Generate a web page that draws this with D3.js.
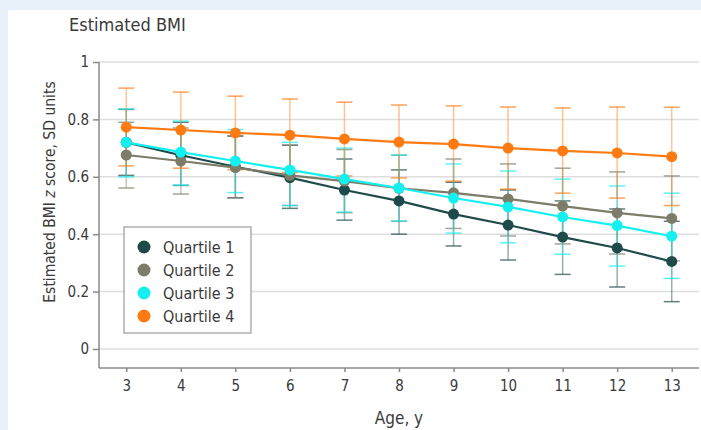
<!DOCTYPE html>
<html>
<head>
<meta charset="utf-8">
<script src="https://cdn.jsdelivr.net/npm/d3@7"></script>
<style>
  body { margin: 0; background: #e9f1fa; }
  text { font-family: "DejaVu Sans Condensed", "DejaVu Sans", sans-serif; fill: #3a3a3a; }
</style>
</head>
<body>
<div id="chart"></div>
<script>
// ages on the x axis
var ages = [3, 4, 5, 6, 7, 8, 9, 10, 11, 12, 13];
var seriesNames = ["Quartile 1", "Quartile 2", "Quartile 3", "Quartile 4"];

// estimated BMI z score per quartile, with lower / upper CI
var q1 = [0.720, 0.675, 0.635, 0.597, 0.554, 0.516, 0.470, 0.432, 0.390, 0.352, 0.305];
var q1Lo = [0.605, 0.570, 0.527, 0.490, 0.449, 0.400, 0.359, 0.310, 0.260, 0.216, 0.165];
var q1Hi = [0.835, 0.790, 0.742, 0.710, 0.662, 0.624, 0.581, 0.554, 0.516, 0.488, 0.445];

var q2 = [0.676, 0.655, 0.632, 0.605, 0.585, 0.560, 0.544, 0.523, 0.498, 0.474, 0.455];
var q2Lo = [0.561, 0.540, 0.527, 0.500, 0.475, 0.445, 0.420, 0.394, 0.366, 0.331, 0.307];
var q2Hi = [0.790, 0.770, 0.742, 0.710, 0.695, 0.675, 0.662, 0.645, 0.630, 0.617, 0.603];

var q3 = [0.720, 0.686, 0.655, 0.624, 0.592, 0.561, 0.526, 0.495, 0.460, 0.430, 0.393];
var q3Lo = [0.600, 0.571, 0.545, 0.500, 0.477, 0.446, 0.404, 0.370, 0.330, 0.289, 0.246];
var q3Hi = [0.836, 0.794, 0.765, 0.720, 0.700, 0.676, 0.645, 0.620, 0.592, 0.568, 0.543];

var q4 = [0.773, 0.763, 0.753, 0.745, 0.732, 0.721, 0.714, 0.700, 0.690, 0.683, 0.670];
var q4Lo = [0.638, 0.630, 0.625, 0.615, 0.603, 0.596, 0.585, 0.557, 0.543, 0.526, 0.500];
var q4Hi = [0.909, 0.895, 0.881, 0.871, 0.860, 0.850, 0.847, 0.843, 0.840, 0.843, 0.842];

var yTicks = [0, 0.2, 0.4, 0.6, 0.8, 1];

var colors = ["#1f4a4a", "#7c7c68", "#14f0f0", "#ff7b12"];

var svgWidth = 701;
var svgHeight = 430;

var margin = { top: 62, right: 2, bottom: 62, left: 99 };
var chartWidth = svgWidth - margin.left - margin.right;
var chartHeight = svgHeight - margin.top - margin.bottom;

var svg = d3.select("#chart")
  .append("svg")
  .attr("width", svgWidth)
  .attr("height", svgHeight);

// white panel over the blue page
svg.append("rect")
  .attr("x", 8)
  .attr("y", 10)
  .attr("width", svgWidth - 8)
  .attr("height", svgHeight - 10)
  .attr("fill", "#fff");

var chartGroup = svg.append("g")
  .attr("transform", `translate(${margin.left}, ${margin.top})`);

var xScale = d3.scaleLinear()
  .domain([2.5, 13.5])
  .range([0, chartWidth]);

var yScale = d3.scaleLinear()
  .domain([-0.0662, 1])
  .range([chartHeight, 0]);

// gridlines
chartGroup.selectAll(".grid")
  .data(yTicks)
  .enter()
  .append("line")
  .attr("x1", 0)
  .attr("x2", chartWidth)
  .attr("y1", d => yScale(d))
  .attr("y2", d => yScale(d))
  .attr("stroke", "#dedede")
  .attr("stroke-width", 1.5);

// axes
var yAxis = d3.axisLeft(yScale)
  .tickValues(yTicks)
  .tickSize(6)
  .tickPadding(4)
  .tickFormat(d => d === 0 || d === 1 ? d3.format("d")(d) : d3.format(".1f")(d));

var xAxis = d3.axisBottom(xScale)
  .tickValues(ages)
  .tickSize(4)
  .tickPadding(8)
  .tickFormat(d3.format("d"));

var yG = chartGroup.append("g").call(yAxis);
var xG = chartGroup.append("g")
  .attr("transform", `translate(0, ${chartHeight})`)
  .call(xAxis);

[yG, xG].forEach(function(g) {
  g.select(".domain").attr("stroke", "#8a8a8a").attr("stroke-width", 1.5);
  g.selectAll(".tick line").attr("stroke", "#8a8a8a").attr("stroke-width", 1.5);
  g.selectAll(".tick text")
    .attr("font-size", 15)
    .attr("fill", "#3a3a3a")
    .style("font-family", "'DejaVu Sans Condensed', sans-serif");
});
yG.select(".domain").attr("d", `M0,0V${chartHeight}`);
xG.select(".domain").attr("d", `M0,0H${chartWidth}`);

// build series table
var series = [
  { name: seriesNames[0], v: q1, lo: q1Lo, hi: q1Hi, color: colors[0] },
  { name: seriesNames[1], v: q2, lo: q2Lo, hi: q2Hi, color: colors[1] },
  { name: seriesNames[2], v: q3, lo: q3Lo, hi: q3Hi, color: colors[2] },
  { name: seriesNames[3], v: q4, lo: q4Lo, hi: q4Hi, color: colors[3] }
];
series.forEach(function(s) {
  s.points = ages.map((a, i) => ({ age: a, v: s.v[i], lo: s.lo[i], hi: s.hi[i] }));
});

var capHalf = 8;

// error bars first
series.forEach(function(s) {
  var eb = chartGroup.append("g")
    .attr("stroke", s.color)
    .attr("stroke-opacity", 0.45)
    .attr("stroke-width", 1.5);
  eb.selectAll(".stem")
    .data(s.points)
    .enter()
    .append("line")
    .attr("x1", d => xScale(d.age))
    .attr("x2", d => xScale(d.age))
    .attr("y1", d => yScale(d.lo))
    .attr("y2", d => yScale(d.hi));
  eb.selectAll(".capHi")
    .data(s.points)
    .enter()
    .append("line")
    .attr("x1", d => xScale(d.age) - capHalf)
    .attr("x2", d => xScale(d.age) + capHalf)
    .attr("y1", d => yScale(d.hi))
    .attr("y2", d => yScale(d.hi))
    .attr("stroke-opacity", 0.7);
  eb.selectAll(".capLo")
    .data(s.points)
    .enter()
    .append("line")
    .attr("x1", d => xScale(d.age) - capHalf)
    .attr("x2", d => xScale(d.age) + capHalf)
    .attr("y1", d => yScale(d.lo))
    .attr("y2", d => yScale(d.lo))
    .attr("stroke-opacity", 0.7);
});

// lines and points
var line = d3.line()
  .x(d => xScale(d.age))
  .y(d => yScale(d.v));

series.forEach(function(s) {
  chartGroup.append("path")
    .datum(s.points)
    .attr("d", line)
    .attr("fill", "none")
    .attr("stroke", s.color)
    .attr("stroke-width", 2.2);
  chartGroup.selectAll(null)
    .data(s.points)
    .enter()
    .append("circle")
    .attr("cx", d => xScale(d.age))
    .attr("cy", d => yScale(d.v))
    .attr("r", 5.5)
    .attr("fill", s.color);
});

// legend
var legend = svg.append("g").attr("transform", "translate(124, 227)");
legend.append("rect")
  .attr("width", 127)
  .attr("height", 106)
  .attr("fill", "#fff")
  .attr("stroke", "#9a9a9a")
  .attr("stroke-width", 1.2);
series.forEach(function(s, i) {
  legend.append("circle")
    .attr("cx", 20)
    .attr("cy", 20 + i * 23)
    .attr("r", 6.5)
    .attr("fill", s.color);
  legend.append("text")
    .attr("x", 39)
    .attr("y", 20 + i * 23)
    .attr("dy", "0.35em")
    .attr("font-size", 16)
    .text(s.name);
});

// title
svg.append("text")
  .attr("x", 69)
  .attr("y", 31)
  .attr("font-size", 18)
  .attr("fill", "#333")
  .text("Estimated BMI");

// axis labels
var yLabel = svg.append("text")
  .attr("transform", "translate(50, 192) rotate(-90)")
  .attr("text-anchor", "middle")
  .attr("dy", "0.35em")
  .attr("font-size", 15.5);
yLabel.append("tspan").text("Estimated BMI ");
yLabel.append("tspan").attr("font-style", "italic").text("z");
yLabel.append("tspan").text(" score, SD units");

svg.append("text")
  .attr("x", 399)
  .attr("y", 418)
  .attr("dy", "0.35em")
  .attr("text-anchor", "middle")
  .attr("font-size", 17)
  .text("Age, y");
</script>
</body>
</html>
